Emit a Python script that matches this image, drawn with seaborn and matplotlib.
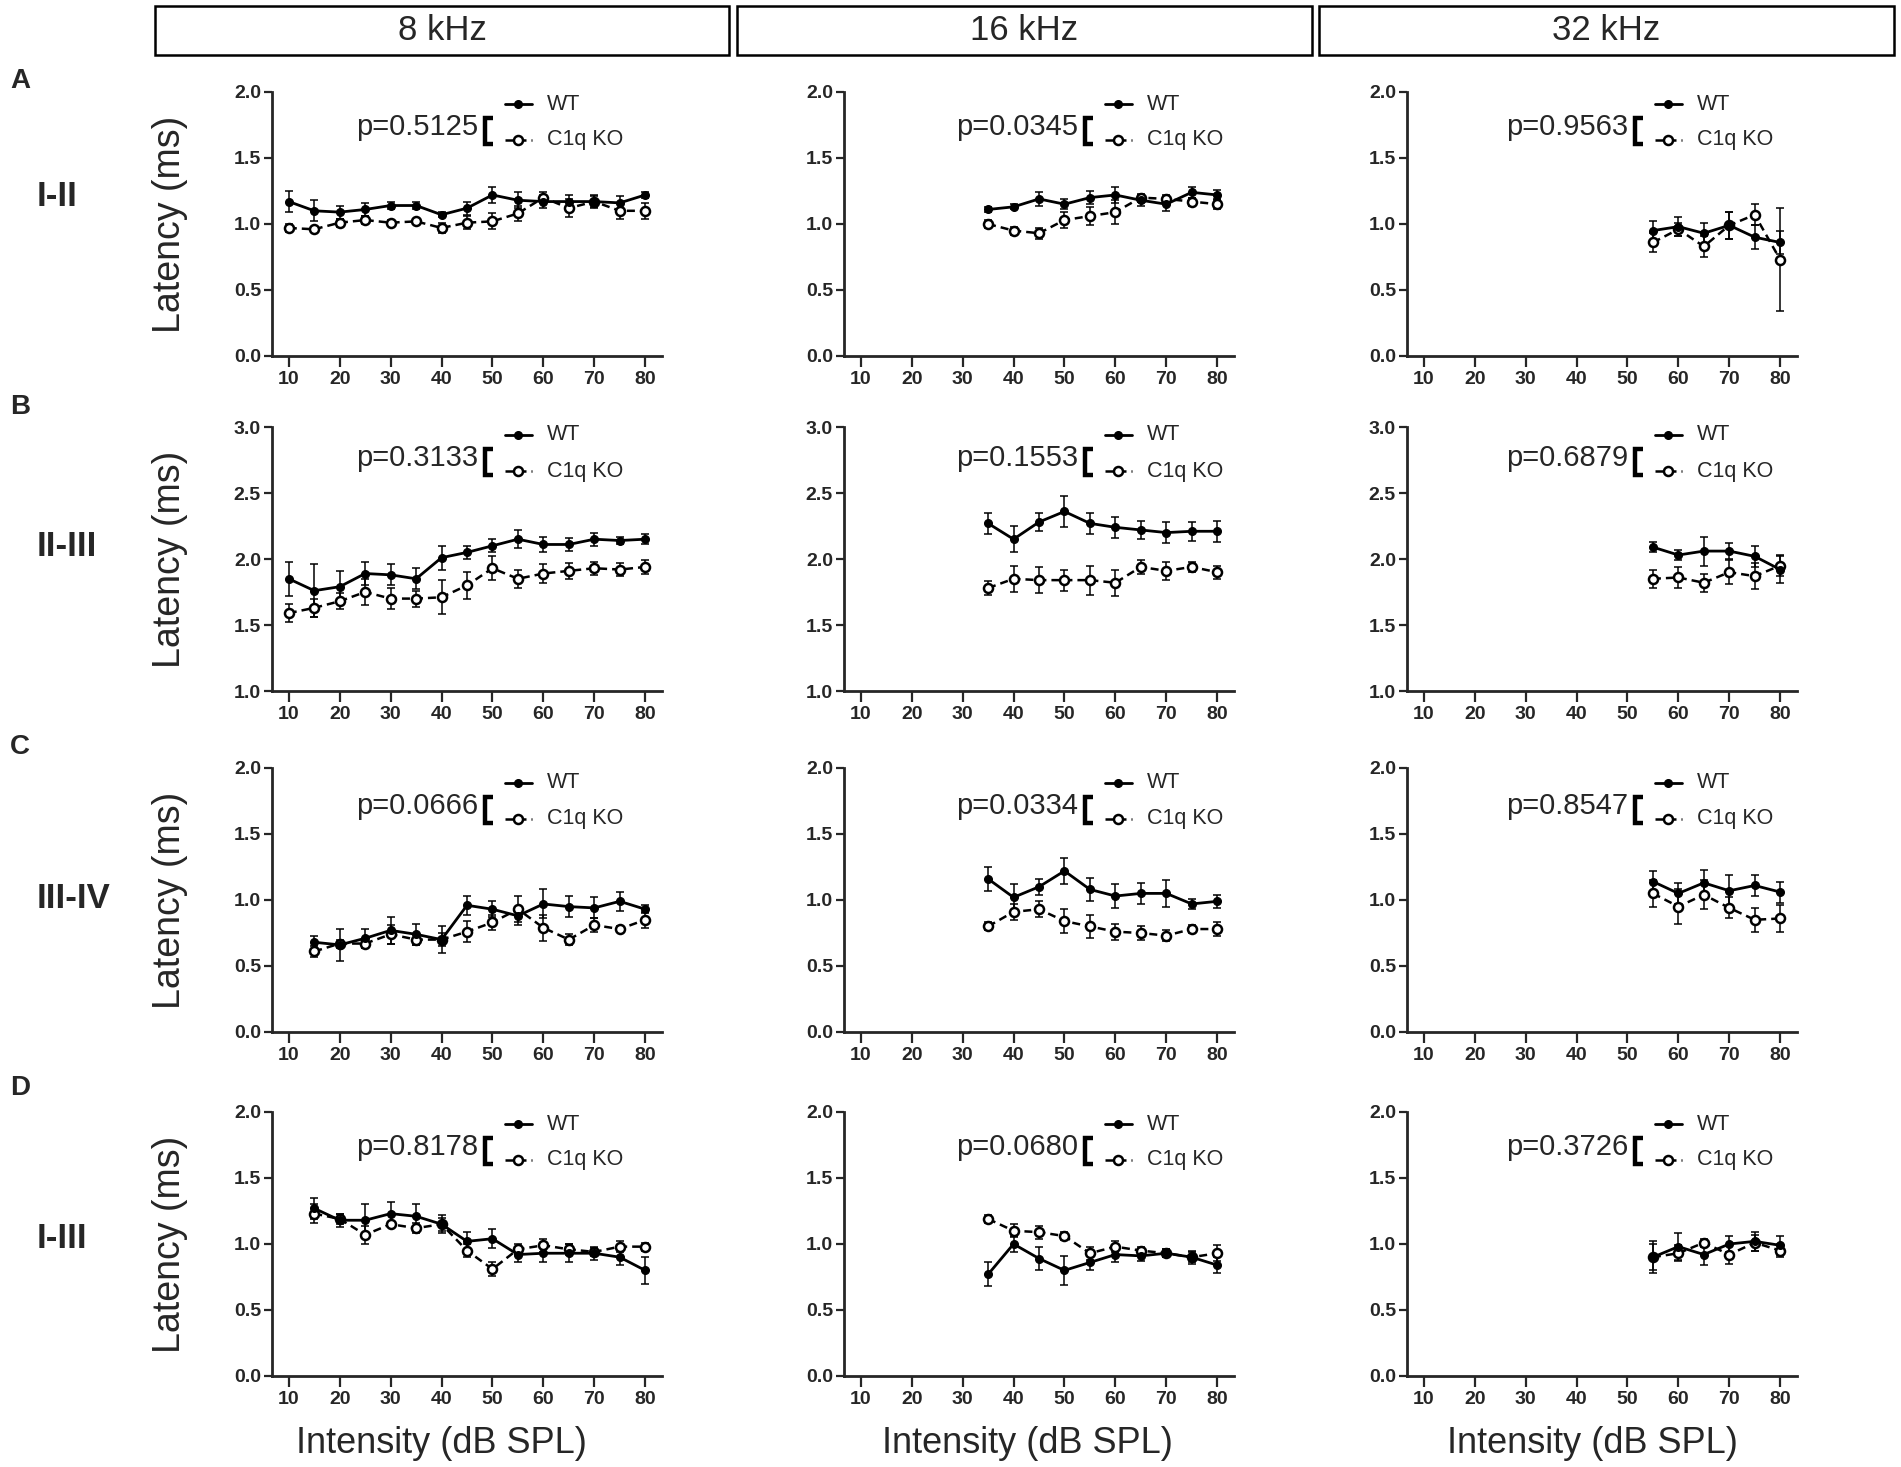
import matplotlib
matplotlib.use("Agg")
import matplotlib.pyplot as plt
from matplotlib.patches import Rectangle
from matplotlib.lines import Line2D
import pandas as pd
import seaborn as sns

# ---------------- data ----------------
FREQS = ["8 kHz", "16 kHz", "32 kHz"]
ROW_LABELS = ["I-II", "II-III", "III-IV", "I-III"]
LETTERS = ["A", "B", "C", "D"]
X_TICKS = [10, 20, 30, 40, 50, 60, 70, 80]
Y_LIMS = [(0.0, 2.0), (1.0, 3.0), (0.0, 2.0), (0.0, 2.0)]
Y_TICKS = [[0.0, 0.5, 1.0, 1.5, 2.0], [1.0, 1.5, 2.0, 2.5, 3.0],
           [0.0, 0.5, 1.0, 1.5, 2.0], [0.0, 0.5, 1.0, 1.5, 2.0]]
P_VALUES = [["p=0.5125", "p=0.0345", "p=0.9563"],
            ["p=0.3133", "p=0.1553", "p=0.6879"],
            ["p=0.0666", "p=0.0334", "p=0.8547"],
            ["p=0.8178", "p=0.0680", "p=0.3726"]]

X_8K = [10, 15, 20, 25, 30, 35, 40, 45, 50, 55, 60, 65, 70, 75, 80]
X_8K_15 = [15, 20, 25, 30, 35, 40, 45, 50, 55, 60, 65, 70, 75, 80]
X_16K = [35, 40, 45, 50, 55, 60, 65, 70, 75, 80]
X_32K = [55, 60, 65, 70, 75, 80]

# Row A: I-II
A8_WT = [1.17, 1.10, 1.09, 1.11, 1.14, 1.14, 1.07, 1.12, 1.22, 1.18, 1.17, 1.17, 1.17, 1.16, 1.22]
A8_WT_SEM = [0.08, 0.08, 0.05, 0.05, 0.03, 0.03, 0.02, 0.05, 0.06, 0.06, 0.05, 0.05, 0.05, 0.05, 0.02]
A8_KO = [0.97, 0.96, 1.01, 1.03, 1.01, 1.02, 0.97, 1.01, 1.02, 1.08, 1.20, 1.12, 1.17, 1.10, 1.10]
A8_KO_SEM = [0.03, 0.02, 0.03, 0.03, 0.02, 0.02, 0.04, 0.05, 0.06, 0.06, 0.04, 0.07, 0.04, 0.06, 0.06]
A16_WT = [1.11, 1.13, 1.19, 1.15, 1.20, 1.22, 1.18, 1.15, 1.24, 1.22]
A16_WT_SEM = [0.02, 0.02, 0.05, 0.04, 0.05, 0.06, 0.04, 0.05, 0.04, 0.04]
A16_KO = [1.00, 0.95, 0.93, 1.03, 1.06, 1.09, 1.20, 1.19, 1.17, 1.15]
A16_KO_SEM = [0.03, 0.03, 0.04, 0.06, 0.07, 0.09, 0.03, 0.03, 0.03, 0.04]
A32_WT = [0.95, 0.98, 0.93, 0.99, 0.90, 0.86]
A32_WT_SEM = [0.07, 0.07, 0.08, 0.10, 0.09, 0.09]
A32_KO = [0.86, 0.96, 0.83, 0.99, 1.07, 0.73]
A32_KO_SEM = [0.07, 0.05, 0.08, 0.10, 0.08, 0.39]

# Row B: II-III
B8_WT = [1.85, 1.76, 1.79, 1.89, 1.88, 1.85, 2.01, 2.05, 2.10, 2.15, 2.11, 2.11, 2.15, 2.14, 2.15]
B8_WT_SEM = [0.13, 0.20, 0.12, 0.09, 0.08, 0.08, 0.09, 0.05, 0.05, 0.07, 0.06, 0.05, 0.05, 0.03, 0.04]
B8_KO = [1.59, 1.63, 1.68, 1.75, 1.70, 1.70, 1.71, 1.80, 1.93, 1.85, 1.89, 1.91, 1.93, 1.92, 1.94]
B8_KO_SEM = [0.07, 0.07, 0.06, 0.10, 0.08, 0.06, 0.13, 0.10, 0.09, 0.07, 0.07, 0.06, 0.05, 0.05, 0.05]
B16_WT = [2.27, 2.15, 2.28, 2.36, 2.27, 2.24, 2.22, 2.20, 2.21, 2.21]
B16_WT_SEM = [0.08, 0.10, 0.07, 0.12, 0.08, 0.08, 0.07, 0.08, 0.07, 0.08]
B16_KO = [1.78, 1.85, 1.84, 1.84, 1.84, 1.82, 1.94, 1.91, 1.94, 1.90]
B16_KO_SEM = [0.05, 0.10, 0.10, 0.08, 0.11, 0.10, 0.05, 0.07, 0.04, 0.05]
B32_WT = [2.09, 2.03, 2.06, 2.06, 2.02, 1.92]
B32_WT_SEM = [0.04, 0.04, 0.11, 0.06, 0.08, 0.10]
B32_KO = [1.85, 1.86, 1.82, 1.90, 1.87, 1.95]
B32_KO_SEM = [0.07, 0.08, 0.07, 0.09, 0.10, 0.08]

# Row C: III-IV
C8_WT = [0.68, 0.66, 0.71, 0.77, 0.74, 0.70, 0.96, 0.93, 0.88, 0.97, 0.95, 0.94, 0.99, 0.93]
C8_WT_SEM = [0.05, 0.12, 0.07, 0.10, 0.08, 0.10, 0.07, 0.06, 0.07, 0.11, 0.08, 0.08, 0.07, 0.03]
C8_KO = [0.61, 0.67, 0.67, 0.74, 0.70, 0.70, 0.76, 0.83, 0.93, 0.79, 0.70, 0.81, 0.78, 0.85]
C8_KO_SEM = [0.04, 0.03, 0.03, 0.07, 0.04, 0.05, 0.08, 0.06, 0.10, 0.10, 0.04, 0.05, 0.02, 0.06]
C16_WT = [1.16, 1.02, 1.10, 1.22, 1.08, 1.03, 1.05, 1.05, 0.97, 0.99]
C16_WT_SEM = [0.09, 0.10, 0.06, 0.10, 0.09, 0.09, 0.08, 0.10, 0.04, 0.05]
C16_KO = [0.80, 0.91, 0.93, 0.84, 0.80, 0.76, 0.75, 0.73, 0.78, 0.78]
C16_KO_SEM = [0.03, 0.06, 0.06, 0.09, 0.09, 0.06, 0.05, 0.04, 0.03, 0.05]
C32_WT = [1.14, 1.05, 1.13, 1.07, 1.11, 1.06]
C32_WT_SEM = [0.08, 0.08, 0.10, 0.12, 0.08, 0.08]
C32_KO = [1.05, 0.95, 1.04, 0.94, 0.85, 0.86]
C32_KO_SEM = [0.10, 0.13, 0.11, 0.08, 0.09, 0.10]

# Row D: I-III
D8_WT = [1.27, 1.18, 1.18, 1.23, 1.21, 1.15, 1.02, 1.04, 0.92, 0.93, 0.93, 0.93, 0.90, 0.80]
D8_WT_SEM = [0.08, 0.05, 0.12, 0.09, 0.09, 0.07, 0.07, 0.07, 0.06, 0.07, 0.07, 0.05, 0.06, 0.10]
D8_KO = [1.23, 1.19, 1.07, 1.15, 1.12, 1.15, 0.95, 0.81, 0.96, 0.99, 0.96, 0.94, 0.98, 0.98]
D8_KO_SEM = [0.07, 0.04, 0.07, 0.02, 0.04, 0.05, 0.05, 0.05, 0.04, 0.05, 0.04, 0.03, 0.04, 0.03]
D16_WT = [0.77, 1.00, 0.89, 0.80, 0.86, 0.92, 0.91, 0.93, 0.90, 0.84]
D16_WT_SEM = [0.09, 0.06, 0.09, 0.11, 0.06, 0.06, 0.04, 0.03, 0.05, 0.06]
D16_KO = [1.19, 1.10, 1.09, 1.06, 0.93, 0.98, 0.95, 0.93, 0.90, 0.93]
D16_KO_SEM = [0.03, 0.05, 0.05, 0.03, 0.05, 0.04, 0.03, 0.03, 0.04, 0.06]
D32_WT = [0.90, 0.98, 0.92, 1.00, 1.02, 0.99]
D32_WT_SEM = [0.12, 0.10, 0.08, 0.06, 0.07, 0.07]
D32_KO = [0.90, 0.93, 1.01, 0.92, 1.01, 0.95]
D32_KO_SEM = [0.10, 0.06, 0.03, 0.07, 0.06, 0.05]

PANELS = [
    [(X_8K, A8_WT, A8_WT_SEM, A8_KO, A8_KO_SEM),
     (X_16K, A16_WT, A16_WT_SEM, A16_KO, A16_KO_SEM),
     (X_32K, A32_WT, A32_WT_SEM, A32_KO, A32_KO_SEM)],
    [(X_8K, B8_WT, B8_WT_SEM, B8_KO, B8_KO_SEM),
     (X_16K, B16_WT, B16_WT_SEM, B16_KO, B16_KO_SEM),
     (X_32K, B32_WT, B32_WT_SEM, B32_KO, B32_KO_SEM)],
    [(X_8K_15, C8_WT, C8_WT_SEM, C8_KO, C8_KO_SEM),
     (X_16K, C16_WT, C16_WT_SEM, C16_KO, C16_KO_SEM),
     (X_32K, C32_WT, C32_WT_SEM, C32_KO, C32_KO_SEM)],
    [(X_8K_15, D8_WT, D8_WT_SEM, D8_KO, D8_KO_SEM),
     (X_16K, D16_WT, D16_WT_SEM, D16_KO, D16_KO_SEM),
     (X_32K, D32_WT, D32_WT_SEM, D32_KO, D32_KO_SEM)],
]

# ---------------- style ----------------
sns.set_style("ticks")
plt.rcParams["font.family"] = ["Liberation Sans", "DejaVu Sans"]

W, H = 1901, 1467
fig = plt.figure(figsize=(W / 100, H / 100), dpi=100)

AX_LEFT_PX = [272, 844, 1407]
AX_TOP_PX = [92, 427, 768, 1112]
AX_W_PX, AX_H_PX = 390, 264
BRACKET_PX = [213, 241, 228]          # bracket x offset from axis left (px)
ROW_DY_PX = [0, -4, 3, 0]             # vertical tweak of legend block per row
XLABEL_X = [0.435, 0.47, 0.475]

KO_DASH = (0, (3.2, 2.0))


def fx(px):
    return px / AX_W_PX


def fy(py):
    return 1 - py / AX_H_PX


for r in range(4):
    for c in range(3):
        left = AX_LEFT_PX[c] / W
        bottom = 1 - (AX_TOP_PX[r] + AX_H_PX) / H
        ax = fig.add_axes([left, bottom, AX_W_PX / W, AX_H_PX / H])
        xs, wt, wt_e, ko, ko_e = PANELS[r][c]

        ax.errorbar(xs, wt, yerr=wt_e, fmt="none", ecolor="black",
                    elinewidth=1.1, capsize=3.0, capthick=1.1, zorder=2)
        ax.errorbar(xs, ko, yerr=ko_e, fmt="none", ecolor="black",
                    elinewidth=1.1, capsize=3.0, capthick=1.1, zorder=2)
        sns.lineplot(x=xs, y=ko, ax=ax, color="black", linewidth=1.8,
                     linestyle=KO_DASH, marker="o", markersize=6.5,
                     markerfacecolor="white", markeredgecolor="black",
                     markeredgewidth=1.8, errorbar=None, zorder=3)
        sns.lineplot(x=xs, y=wt, ax=ax, color="black", linewidth=2.0,
                     marker="o", markersize=5.5, markerfacecolor="black",
                     markeredgecolor="black", markeredgewidth=1.0,
                     errorbar=None, zorder=4)

        ax.set_xlim(6.7, 83.3)
        ax.set_ylim(*Y_LIMS[r])
        ax.set_xticks(X_TICKS)
        ax.set_yticks(Y_TICKS[r])
        ax.set_yticklabels([f"{v:.1f}" for v in Y_TICKS[r]])
        for lab in ax.get_xticklabels() + ax.get_yticklabels():
            lab.set_fontweight("bold")
            lab.set_fontsize(14)
        ax.tick_params(axis="x", length=8, width=1.6, pad=3)
        ax.tick_params(axis="y", length=6, width=1.6, pad=2)
        sns.despine(ax=ax)
        for s in ("left", "bottom"):
            ax.spines[s].set_linewidth(2.0)

        if c == 0:
            ax.set_ylabel("Latency (ms)", fontsize=27)
            ax.yaxis.set_label_coords(-0.216, 0.5)
        else:
            ax.set_ylabel("")
        if r == 3:
            ax.set_xlabel("Intensity (dB SPL)", fontsize=26)
            ax.xaxis.set_label_coords(XLABEL_X[c], -0.19)
        else:
            ax.set_xlabel("")

        # p-value, bracket and legend block
        bx = BRACKET_PX[c]
        dy = ROW_DY_PX[r]
        wt_y = 12 + dy
        ko_y = 48 + dy
        ax.text(fx(bx - 7), fy(35 + dy), P_VALUES[r][c], transform=ax.transAxes,
                ha="right", va="center", fontsize=21)
        bracket = Line2D([fx(bx + 8), fx(bx), fx(bx), fx(bx + 8)],
                         [fy(26 + dy), fy(26 + dy), fy(52 + dy), fy(52 + dy)],
                         transform=ax.transAxes, color="black", linewidth=3.2,
                         solid_joinstyle="miter", solid_capstyle="butt", clip_on=False)
        ax.add_artist(bracket)
        wt_handle = Line2D([fx(bx + 20), fx(bx + 47)], [fy(wt_y), fy(wt_y)],
                           transform=ax.transAxes, color="black", linewidth=2.0,
                           clip_on=False)
        wt_dot = Line2D([fx(bx + 33)], [fy(wt_y)], transform=ax.transAxes,
                        color="black", marker="o", markersize=5.5, linestyle="none",
                        clip_on=False)
        ko_handle = Line2D([fx(bx + 20), fx(bx + 47)], [fy(ko_y), fy(ko_y)],
                           transform=ax.transAxes, color="black", linewidth=1.8,
                           linestyle=KO_DASH, clip_on=False)
        ko_dot = Line2D([fx(bx + 33)], [fy(ko_y)], transform=ax.transAxes,
                        color="black", marker="o", markersize=6.5,
                        markerfacecolor="white", markeredgewidth=1.8,
                        linestyle="none", clip_on=False)
        for art in (wt_handle, wt_dot, ko_handle, ko_dot):
            ax.add_artist(art)
        ax.text(fx(bx + 62), fy(wt_y), "WT", transform=ax.transAxes,
                ha="left", va="center", fontsize=15.5)
        ax.text(fx(bx + 62), fy(ko_y), "C1q KO", transform=ax.transAxes,
                ha="left", va="center", fontsize=15.5)

# header boxes
BOX_X_PX = [(155, 729), (737, 1312), (1319, 1894)]
for (x0, x1), name in zip(BOX_X_PX, FREQS):
    rect = Rectangle((x0 / W, 1 - 55 / H), (x1 - x0) / W, 49 / H,
                     transform=fig.transFigure, fill=False, edgecolor="black",
                     linewidth=1.8)
    fig.add_artist(rect)
    fig.text((x0 + x1) / 2 / W, 1 - 31 / H, name, ha="center", va="center",
             fontsize=25)

# panel letters and row labels
LETTER_Y_PX = [81, 407, 747, 1088]
ROW_LABEL_Y_PX = [196, 546, 898, 1239]
for letter, ly, label, ry in zip(LETTERS, LETTER_Y_PX, ROW_LABELS, ROW_LABEL_Y_PX):
    fig.text(20 / W, 1 - ly / H, letter, ha="center", va="center",
             fontsize=20, fontweight="bold")
    fig.text(37 / W, 1 - ry / H, label, ha="left", va="center",
             fontsize=25, fontweight="bold")

fig.savefig("out.png", dpi=100, facecolor="white")
